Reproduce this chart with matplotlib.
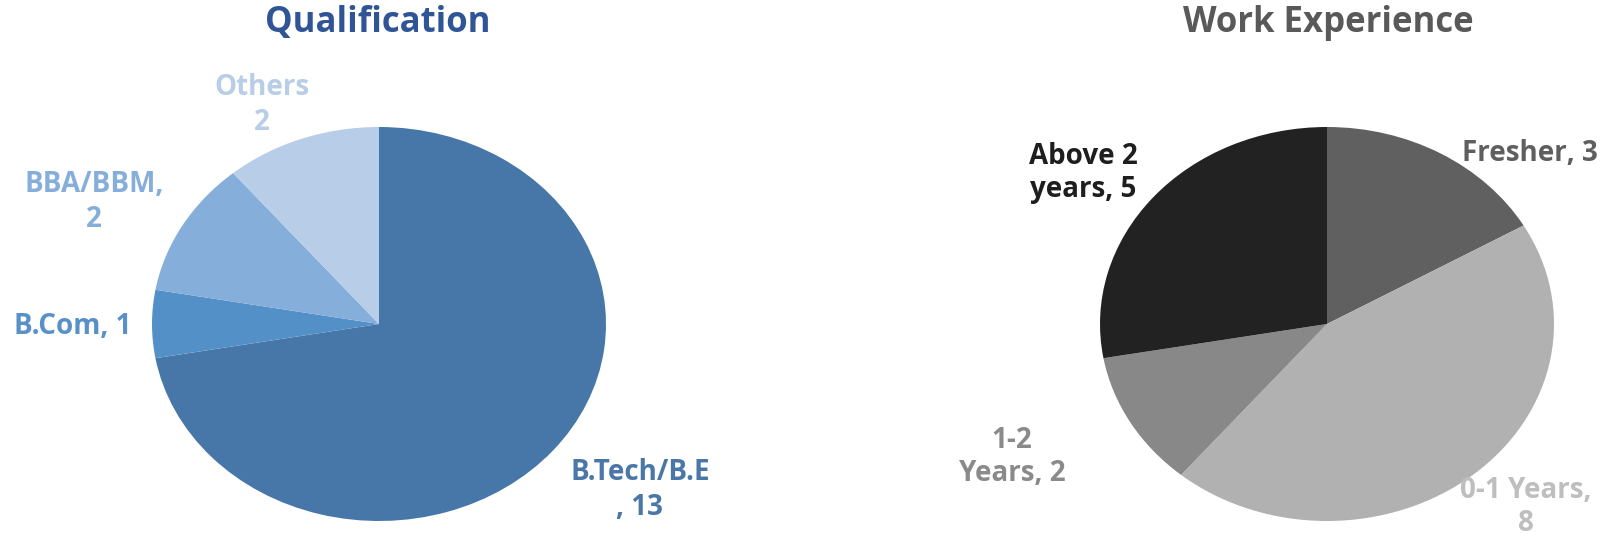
import matplotlib.pyplot as plt

# data
qual_labels = ["B.Tech/B.E\n, 13", "B.Com, 1", "BBA/BBM,\n2", "Others\n2"]
qual_values = [13, 1, 2, 2]
qual_colors = ["#4677A8", "#5490C8", "#86AEDB", "#B8CDE7"]
qual_text_colors = ["#4A77A8", "#5A90C8", "#86AEDB", "#B8CDE7"]

work_labels = ["Fresher, 3", "0-1 Years,\n8", "1-2\nYears, 2", "Above 2\nyears, 5"]
work_values = [3, 8, 2, 5]
work_colors = ["#606060", "#B1B1B1", "#888888", "#222222"]
work_text_colors = ["#5F5F5F", "#BEBEBE", "#8A8A8A", "#1E1E1E"]

W, H = 1602, 543
plt.rcParams['font.family'] = ['Open Sans', 'DejaVu Sans']


def px(x, y):
    return x / W, 1 - y / H


def make_pie(rect, values, colors):
    # rect in pixels: left, top, right, bottom
    l, t, r, b = rect
    ax = fig.add_axes([l / W, 1 - b / H, (r - l) / W, (b - t) / H])
    ax.pie(values, colors=colors, startangle=90, counterclock=False,
           radius=1, wedgeprops=dict(linewidth=0))
    ax.set_aspect('auto')
    ax.set_xlim(-1, 1)
    ax.set_ylim(-1, 1)
    ax.axis('off')
    return ax


fig = plt.figure(figsize=(W / 100, H / 100), dpi=100)

make_pie((152, 127, 606, 521), qual_values, qual_colors)
make_pie((1100, 127, 1554, 521), work_values, work_colors)

fig.text(*px(378, 23), "Qualification", color="#2F5597", fontsize=25,
         fontweight='bold', ha='center', va='center')
fig.text(*px(1328, 23), "Work Experience", color="#595959", fontsize=25,
         fontweight='bold', ha='center', va='center')

qual_pos = [(640, 490), (73, 326), (94, 202), (262, 105)]
for lab, c, (x, y) in zip(qual_labels, qual_text_colors, qual_pos):
    fig.text(*px(x, y), lab, color=c, fontsize=20, fontweight='bold',
             ha='center', va='center', linespacing=1.25)

work_pos = [(1530, 153), (1526, 507), (1012, 457), (1083, 173)]
for lab, c, (x, y) in zip(work_labels, work_text_colors, work_pos):
    fig.text(*px(x, y), lab, color=c, fontsize=20, fontweight='bold',
             ha='center', va='center', linespacing=1.2)

fig.savefig("out.png", dpi=100, facecolor="white")
